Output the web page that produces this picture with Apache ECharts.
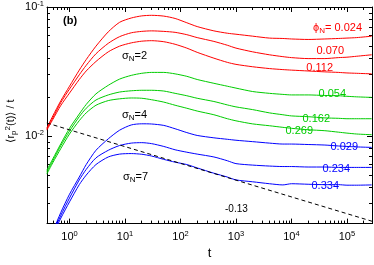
<!DOCTYPE html>
<html><head><meta charset="utf-8">
<script src="https://cdn.jsdelivr.net/npm/echarts@6/dist/echarts.min.js"></script>
<style>html,body{margin:0;padding:0;background:#fff}#c{width:374px;height:265px}</style>
</head><body><div id="c"></div>
<script>
// time grid (t)
const times = [0.39, 0.5, 0.7, 1, 1.5, 2, 3, 5, 8, 13, 20, 30, 50, 80, 130, 200, 400, 700, 1000, 2000, 4000, 7000, 1e4, 2e4, 4e4, 7e4, 1e5, 1.5e5, 2.8e5];
// sigma_N = 2 (red)
const red_0024 = [0.0115, 0.0143, 0.0188, 0.0243, 0.0324, 0.0391, 0.0497, 0.0642, 0.0761, 0.0822, 0.0853, 0.0862, 0.0850, 0.0815, 0.0755, 0.0705, 0.0653, 0.0626, 0.0615, 0.0594, 0.0574, 0.0570, 0.0565, 0.0560, 0.0565, 0.0570, 0.0574, 0.0579, 0.0594];
const red_0070 = [0.0113, 0.0138, 0.0182, 0.0231, 0.0298, 0.0353, 0.0434, 0.0523, 0.0589, 0.0631, 0.0647, 0.0653, 0.0647, 0.0636, 0.0610, 0.0579, 0.0541, 0.0505, 0.0480, 0.0449, 0.0426, 0.0412, 0.0405, 0.0398, 0.0398, 0.0405, 0.0408, 0.0415, 0.0426];
const red_0112 = [0.0111, 0.0134, 0.0173, 0.0215, 0.0274, 0.0319, 0.0378, 0.0449, 0.0497, 0.0527, 0.0543, 0.0548, 0.0538, 0.0514, 0.0480, 0.0445, 0.0401, 0.0372, 0.0359, 0.0344, 0.0333, 0.0327, 0.0324, 0.0319, 0.0314, 0.0311, 0.0308, 0.0306, 0.0303];
// sigma_N = 4 (green)
const green_0054 = [0.00541, 0.00664, 0.00872, 0.01146, 0.0148, 0.01755, 0.0212, 0.0247, 0.0276, 0.0295, 0.0306, 0.0311, 0.0311, 0.0303, 0.0290, 0.0274, 0.0256, 0.0243, 0.0235, 0.0221, 0.0214, 0.0210, 0.0208, 0.0208, 0.0206, 0.0205, 0.0203, 0.0201, 0.0199];
const green_0162 = [0.00523, 0.00642, 0.00843, 0.0109, 0.0141, 0.0164, 0.0190, 0.0208, 0.0219, 0.0224, 0.0226, 0.0226, 0.0223, 0.0214, 0.0205, 0.0196, 0.0185, 0.0174, 0.0168, 0.0160, 0.0151, 0.0146, 0.0143, 0.0141, 0.0138, 0.0137, 0.0136, 0.0136, 0.0136];
const green_0269 = [0.00506, 0.0062, 0.00801, 0.01035, 0.01314, 0.0151, 0.0173, 0.0188, 0.0194, 0.0197, 0.0196, 0.0191, 0.0183, 0.0173, 0.0164, 0.0156, 0.0146, 0.0136, 0.0131, 0.0124, 0.0120, 0.01166, 0.01146, 0.01117, 0.01098, 0.0107, 0.01052, 0.01035, 0.01022];
// sigma_N = 7 (blue)
const blue_0029 = [0.00143, 0.00182, 0.00256, 0.00353, 0.0048, 0.0060, 0.00774, 0.0095, 0.01108, 0.01217, 0.01242, 0.01238, 0.01207, 0.01137, 0.01062, 0.01009, 0.00967, 0.00942, 0.00926, 0.00903, 0.0088, 0.00865, 0.00865, 0.00858, 0.0085, 0.00836, 0.00829, 0.00822, 0.00815];
const blue_0234 = [0.00138, 0.00176, 0.00243, 0.0033, 0.00456, 0.0055, 0.00676, 0.00774, 0.00843, 0.0088, 0.00887, 0.00872, 0.00829, 0.00781, 0.00748, 0.00723, 0.00687, 0.00642, 0.0061, 0.00594, 0.00584, 0.00579, 0.00579, 0.00574, 0.00574, 0.0057, 0.0057, 0.0057, 0.0057];
const blue_0334 = [0.00131, 0.0017, 0.00231, 0.00308, 0.00419, 0.00497, 0.006, 0.00687, 0.00723, 0.0073, 0.00721, 0.00699, 0.00658, 0.00626, 0.006, 0.00565, 0.00514, 0.0048, 0.00456, 0.00441, 0.00426, 0.00417, 0.00426, 0.00422, 0.00419, 0.00419, 0.00415, 0.00415, 0.00417];
// power-law guide, slope -0.13
const guideT = [0.39, 283000];
const guideV = [0.0126, 0.00218];
const xRange = [0.393, 283000];
const yRange = [0.00209, 0.1];

const FONT = 'Liberation Sans, Arial, Helvetica, sans-serif';
const RED = '#ff0000', GREEN = '#00cc00', BLUE = '#0000ff';

function pairs(xs, ys){ return xs.map((x,i)=>[x, ys[i]]); }
function curve(vals, color){
  return {type:'line', data: pairs(times, vals), showSymbol:false, smooth:0.25,
    lineStyle:{color, width:1}, itemStyle:{color}, clip:true, silent:true};
}
const supRich = {
  b:{fontSize:11, fontFamily:FONT, lineHeight:14, color:'#000'},
  s:{fontSize:7.5, fontFamily:FONT, lineHeight:8, verticalAlign:'top', color:'#000'}
};
function powLabel(v){
  const e = Math.round(Math.log10(v));
  return '{b|10}{s|' + e + '}';
}
function baseX(pos, showLabel){
  return {type:'log', logBase:10, min:xRange[0], max:xRange[1], position:pos,
    axisLine:{show:true, lineStyle:{color:'#000', width:1}},
    axisTick:{show:true, inside:true, length:5, lineStyle:{color:'#000'}},
    minorTick:{show:true, splitNumber:9, length:3, lineStyle:{color:'#000'}},
    splitLine:{show:false}, minorSplitLine:{show:false},
    axisLabel:{show:showLabel, formatter:powLabel, rich:supRich, margin:6, showMinLabel:false, showMaxLabel:false}};
}
function baseY(pos, showLabel){
  return {type:'log', logBase:10, min:yRange[0], max:yRange[1], position:pos,
    axisLine:{show:true, lineStyle:{color:'#000', width:1}},
    axisTick:{show:true, inside:true, length:5, lineStyle:{color:'#000'}},
    minorTick:{show:true, splitNumber:9, length:3, lineStyle:{color:'#000'}},
    splitLine:{show:false}, minorSplitLine:{show:false},
    axisLabel:{show:showLabel, formatter:powLabel, rich:supRich, margin:3, showMinLabel:false}};
}
const xb = baseX('bottom', true);
xb.name = 't'; xb.nameLocation = 'middle'; xb.nameGap = 22;
xb.nameTextStyle = {fontFamily:FONT, fontSize:13, color:'#000'};

const subRich = {
  a:{fontSize:11, fontFamily:FONT, lineHeight:14},
  n:{fontSize:8, fontFamily:FONT, lineHeight:6, verticalAlign:'bottom'}
};
function label(x, y, text, color, align, rich, size){
  return {type:'text', x, y, silent:true, style:{text, fill:color, textAlign:align, textVerticalAlign:'middle',
    font: (size||11) + 'px ' + FONT, rich: rich}};
}
function richColor(c){
  return {a:Object.assign({color:c}, subRich.a), n:Object.assign({color:c}, subRich.n)};
}

const chart = echarts.init(document.getElementById('c'), null, {renderer:'canvas'});
chart.setOption({
  animation:false,
  backgroundColor:'#fff',
  grid:{left:47, right:2, top:7, bottom:31, containLabel:false},
  xAxis:[xb, baseX('top', false)],
  yAxis:[baseY('left', true), baseY('right', false)],
  series:[
    curve(red_0024, RED), curve(red_0070, RED), curve(red_0112, RED),
    curve(green_0054, GREEN), curve(green_0162, GREEN), curve(green_0269, GREEN),
    curve(blue_0029, BLUE), curve(blue_0234, BLUE), curve(blue_0334, BLUE),
    {type:'line', data:pairs(guideT, guideV), showSymbol:false, silent:true,
      lineStyle:{color:'#000', width:1, type:[4,3]}}
  ],
  graphic:[
    {type:'text', x:63, y:21, silent:true, style:{text:'(b)', fill:'#000', font:'bold 11px '+FONT, textVerticalAlign:'middle'}},
    label(122, 56, '{a|σ}{n|N}{a|=2}', '#000', 'left', richColor('#000')),
    label(122, 115, '{a|σ}{n|N}{a|=4}', '#000', 'left', richColor('#000')),
    label(123, 177, '{a|σ}{n|N}{a|=7}', '#000', 'left', richColor('#000')),
    label(362, 28, '{a|ϕ}{n|N}{a|= 0.024}', RED, 'right', richColor(RED)),
    label(344, 51, '0.070', RED, 'right'),
    label(333, 68, '0.112', RED, 'right'),
    label(346, 94, '0.054', GREEN, 'right'),
    label(330, 119, '0.162', GREEN, 'right'),
    label(313, 130.5, '0.269', GREEN, 'right'),
    label(358, 146.5, '0.029', BLUE, 'right'),
    label(350, 168.5, '0.234', BLUE, 'right'),
    label(339, 186, '0.334', BLUE, 'right'),
    label(225, 209, '-0.13', '#000', 'left', null, 10),
    {type:'text', x:11, y:121, rotation:Math.PI/2, silent:true,
      style:{text:'{a|⟨r}{p|p}{s|2}{a|(t)⟩ / t}', textAlign:'center', textVerticalAlign:'middle', fill:'#000',
        font:'11px '+FONT,
        rich:{a:{fontSize:11, fontFamily:FONT, lineHeight:14}, p:{fontSize:8, fontFamily:FONT, lineHeight:6, verticalAlign:'bottom'},
              s:{fontSize:8, fontFamily:FONT, lineHeight:6, verticalAlign:'top'}}}}
  ]
});
</script></body></html>
